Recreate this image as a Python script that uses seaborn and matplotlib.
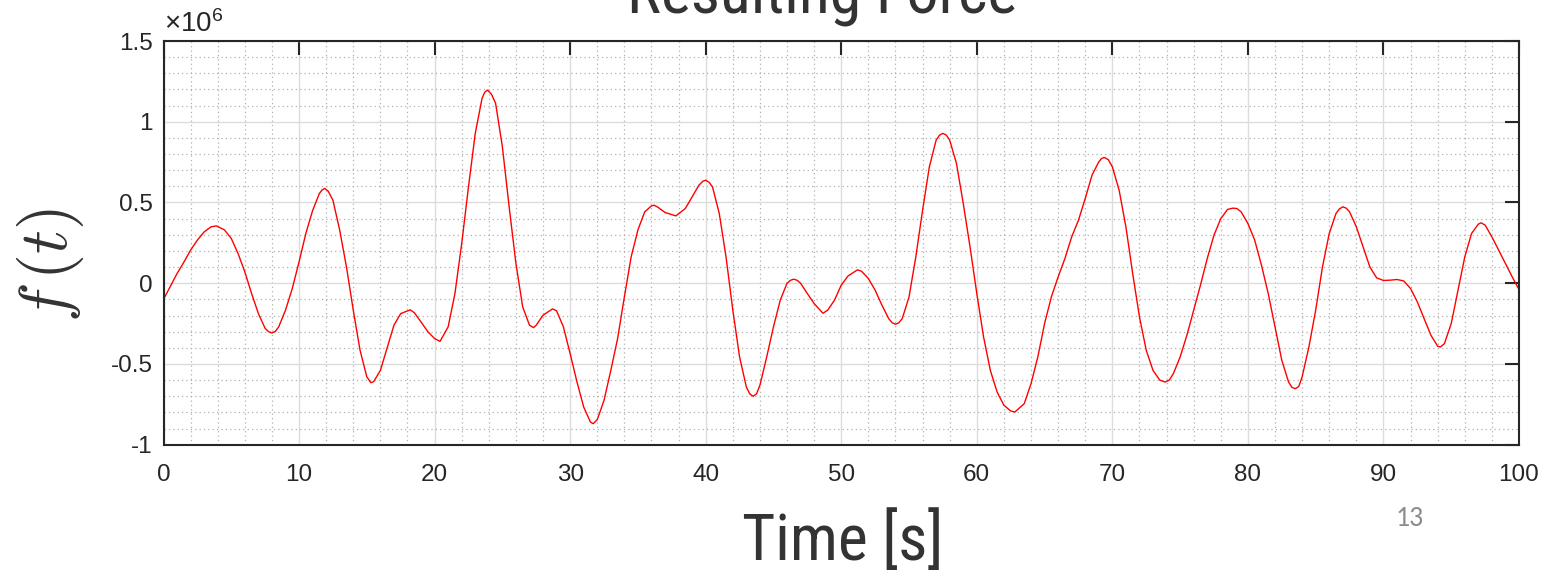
import numpy as np
import pandas as pd
import matplotlib
matplotlib.use("Agg")
import matplotlib.pyplot as plt
from matplotlib.ticker import MultipleLocator, FuncFormatter
import seaborn as sns

# ---- data (time in s, force in units of 1e6) ----
time_s = [0, 0.5, 1, 1.5, 2, 2.5, 3, 3.5, 3.9, 4.5, 5, 5.5, 6, 6.5, 7, 7.5, 7.75, 8, 8.25, 8.5,
          9, 9.5, 10, 10.5, 11, 11.5, 11.7, 11.9, 12.15, 12.5, 13, 13.5, 14, 14.5, 15, 15.3,
          15.5, 16, 16.5, 17, 17.5, 18.2, 18.5, 19, 19.5, 20, 20.4, 21, 21.5, 22, 22.5, 23,
          23.5, 23.7, 23.9, 24.2, 24.5, 25, 25.5, 26, 26.5, 27, 27.3, 27.5, 28, 28.7, 29, 29.5,
          30, 30.5, 31, 31.5, 31.7, 32, 32.5, 33, 33.5, 34, 34.5, 35, 35.5, 36, 36.2, 36.5, 37,
          37.8, 38.5, 39, 39.5, 39.8, 40, 40.25, 40.5, 41, 41.5, 42, 42.5, 43, 43.25, 43.5,
          43.75, 44, 44.5, 45, 45.5, 46, 46.25, 46.5, 46.75, 47, 47.5, 48, 48.65, 49, 49.5, 50,
          50.5, 51.2, 51.5, 52, 52.5, 53, 53.5, 53.75, 54, 54.25, 54.5, 55, 55.5, 56, 56.5, 57,
          57.25, 57.5, 57.75, 58, 58.5, 59, 59.5, 60, 60.5, 61, 61.5, 62, 62.5, 62.8, 63.5, 64,
          64.5, 65, 65.5, 66, 66.5, 67, 67.5, 68, 68.5, 69, 69.2, 69.4, 69.7, 70, 70.5, 71, 71.5,
          72, 72.5, 73, 73.5, 73.9, 74.2, 74.5, 75, 75.5, 76, 76.5, 77, 77.5, 78, 78.5, 78.9,
          79.2, 79.5, 80, 80.5, 81, 81.5, 82, 82.5, 83, 83.25, 83.5, 83.75, 84, 84.5, 85, 85.5,
          86, 86.5, 86.75, 87, 87.25, 87.5, 88, 88.5, 89, 89.5, 90, 90.5, 91, 91.5, 92, 92.5,
          93, 93.5, 94, 94.2, 94.5, 95, 95.5, 96, 96.5, 97, 97.2, 97.5, 98, 98.5, 99, 99.5, 100]
force_1e6 = [-0.10, -0.02, 0.06, 0.13, 0.205, 0.267, 0.318, 0.349, 0.355, 0.33, 0.277, 0.184,
             0.07, -0.064, -0.188, -0.28, -0.30, -0.308, -0.298, -0.27, -0.167, -0.033, 0.132,
             0.308, 0.45, 0.556, 0.578, 0.587, 0.57, 0.514, 0.328, 0.10, -0.167, -0.415, -0.58,
             -0.616, -0.61, -0.54, -0.40, -0.26, -0.188, -0.165, -0.182, -0.24, -0.30, -0.343,
             -0.36, -0.27, -0.064, 0.246, 0.597, 0.928, 1.145, 1.183, 1.196, 1.17, 1.114, 0.845,
             0.473, 0.122, -0.147, -0.26, -0.275, -0.26, -0.198, -0.159, -0.171, -0.27, -0.436,
             -0.61, -0.767, -0.86, -0.87, -0.845, -0.725, -0.54, -0.343, -0.085, 0.163, 0.33,
             0.442, 0.479, 0.483, 0.469, 0.438, 0.417, 0.463, 0.535, 0.607, 0.632, 0.638, 0.625,
             0.597, 0.432, 0.163, -0.167, -0.457, -0.643, -0.685, -0.70, -0.685, -0.632, -0.457,
             -0.27, -0.105, 0.0, 0.018, 0.025, 0.018, 0.0, -0.064, -0.126, -0.186, -0.167,
             -0.105, -0.012, 0.045, 0.083, 0.074, 0.029, -0.043, -0.136, -0.219, -0.245, -0.254,
             -0.245, -0.219, -0.085, 0.163, 0.452, 0.721, 0.886, 0.917, 0.928, 0.917, 0.886,
             0.742, 0.494, 0.225, -0.064, -0.333, -0.54, -0.674, -0.756, -0.791, -0.798, -0.746,
             -0.622, -0.457, -0.25, -0.085, 0.039, 0.153, 0.287, 0.39, 0.525, 0.669, 0.752,
             0.772, 0.779, 0.765, 0.721, 0.576, 0.349, 0.06, -0.209, -0.415, -0.54, -0.60,
             -0.612, -0.60, -0.56, -0.457, -0.322, -0.167, -0.012, 0.153, 0.298, 0.40, 0.457,
             0.465, 0.462, 0.442, 0.37, 0.267, 0.112, -0.064, -0.27, -0.477, -0.612, -0.645,
             -0.653, -0.64, -0.58, -0.395, -0.167, 0.10, 0.308, 0.432, 0.46, 0.473, 0.465, 0.442,
             0.349, 0.225, 0.10, 0.033, 0.017, 0.019, 0.023, 0.014, -0.033, -0.116, -0.219,
             -0.322, -0.39, -0.395, -0.374, -0.25, -0.043, 0.163, 0.308, 0.366, 0.374, 0.36,
             0.287, 0.205, 0.122, 0.039, -0.039]
scale = 1e6
x_ticks = [0, 10, 20, 30, 40, 50, 60, 70, 80, 90, 100]
y_ticks_1e6 = [-1, -0.5, 0, 0.5, 1, 1.5]

df = pd.DataFrame({"t": time_s, "f": np.array(force_1e6) * scale})

sns.set_theme(style="white")
plt.rcParams["font.family"] = ["Liberation Sans", "DejaVu Sans"]
plt.rcParams["mathtext.fontset"] = "cm"

from matplotlib import font_manager as fm
_avail = {f.name for f in fm.fontManager.ttflist}
narrow = [n for n in ["Arial Narrow", "Liberation Sans Narrow", "Roboto Condensed",
                      "Archivo Narrow", "PT Sans Narrow", "Open Sans Condensed",
                      "IBM Plex Sans Condensed"] if n in _avail] + ["Liberation Sans", "DejaVu Sans"]
txt_col = "#262626"

fig = plt.figure(figsize=(15.62, 5.72), dpi=100)
ax = fig.add_axes([163.5 / 1562, 1 - 444.7 / 572, (1519 - 163.5) / 1562, (444.7 - 41) / 572])

sns.lineplot(data=df, x="t", y="f", ax=ax, color="#ff0000", linewidth=1.0,
             estimator=None, sort=False)

ax.set_xlim(0, 100)
ax.set_ylim(-1 * scale, 1.5 * scale)
ax.set_xticks(x_ticks)
ax.set_yticks([v * scale for v in y_ticks_1e6])
ax.yaxis.set_major_formatter(FuncFormatter(lambda v, p: "%g" % (v / scale)))
ax.xaxis.set_major_formatter(FuncFormatter(lambda v, p: "%g" % v))
ax.xaxis.set_minor_locator(MultipleLocator(2))
ax.yaxis.set_minor_locator(MultipleLocator(0.1 * scale))

ax.grid(which="major", color="#dcdcdc", linewidth=1.0, linestyle="-")
ax.grid(which="minor", color="#b0b0b0", linewidth=0.9, linestyle=(0, (1, 2.5)))
ax.set_axisbelow(True)

ax.tick_params(which="major", direction="in", length=10, width=1.5, color=txt_col,
               top=True, right=True, labelsize=17.5, labelcolor=txt_col)
ax.tick_params(axis="x", which="major", pad=14)
ax.tick_params(axis="y", which="major", pad=8)
ax.tick_params(which="minor", length=0)
for s in ax.spines.values():
    s.set_color(txt_col)
    s.set_linewidth(1.5)

ax.set_xlabel("")
ax.set_ylabel("")

# exponent label
ax.text(0.0, 1.008, r"$\mathregular{\times10^{6}}$", transform=ax.transAxes, fontsize=20,
        color=txt_col, ha="left", va="bottom")

# title (cut off at the top, as in the reference)
fig.text(822 / 1562, 1 - 13 / 572, "Resulting Force", fontsize=46, color="#333333",
         ha="center", va="baseline", family=narrow)
# x label
fig.text(843 / 1562, 1 - 560 / 572, "Time [s]", fontsize=46, color="#333333",
         ha="center", va="baseline", family=narrow)
# y label
fig.text(50 / 1562, 1 - 265 / 572, r"$f\,(t)$", fontsize=48, color="#333333",
         ha="center", va="center", rotation=90)
# page number
fig.text(1410 / 1562, 1 - 518 / 572, "13", fontsize=20, color="#8c8c8c",
         ha="center", va="center", family=["Carlito", "Lato", "DejaVu Sans"])

fig.savefig("out.png", dpi=100)
